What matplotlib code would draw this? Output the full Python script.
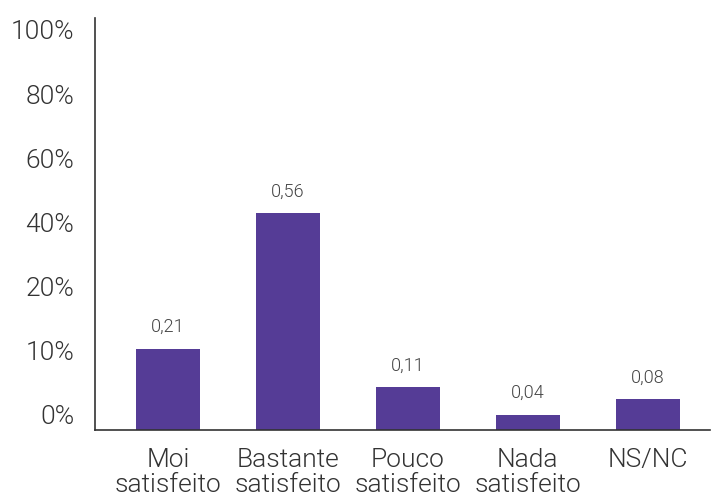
import matplotlib
matplotlib.use("Agg")
import matplotlib.pyplot as plt
import numpy as np

categories = ["Moi\nsatisfeito", "Bastante\nsatisfeito", "Pouco\nsatisfeito", "Nada\nsatisfeito", "NS/NC"]
values = [0.21, 0.56, 0.11, 0.04, 0.08]
value_labels = ["0,21", "0,56", "0,11", "0,04", "0,08"]
ytick_labels = ["0%", "10%", "20%", "40%", "60%", "80%", "100%"]

plt.rcParams['font.family'] = ['Roboto', 'DejaVu Sans']
W = 300

fig = plt.figure(figsize=(7.11, 4.96), dpi=100)
ax = fig.add_axes([95/711, 66/496, 615/711, 412/496])

x = np.arange(len(categories))
bars = ax.bar(x, values, width=0.533, color="#553C96")

for xi, v, lab in zip(x, values, value_labels):
    ax.annotate(lab, (xi, v), xytext=(0, 9), textcoords="offset points",
                ha="center", va="bottom", fontsize=13, color="#444444",
                fontweight=W)

ax.set_xlim(-0.608, 4.52)
ax.set_ylim(0, 1.065)

ytick_pos = np.linspace(0.039, 1.034, len(ytick_labels))
ax.set_yticks(ytick_pos)
ax.set_yticklabels(ytick_labels, fontsize=19, color="#333333", fontweight=W)
ax.set_xticks(x)
ax.set_xticklabels(categories, fontsize=19, color="#333333", fontweight=W,
                   linespacing=1.05)
ax.tick_params(axis="both", length=0)
ax.tick_params(axis="y", pad=15)
ax.tick_params(axis="x", pad=13)

for s in ["top", "right"]:
    ax.spines[s].set_visible(False)
for s in ["left", "bottom"]:
    ax.spines[s].set_color("#333333")
    ax.spines[s].set_linewidth(1.2)

fig.savefig("out.png", dpi=100, facecolor="white")
